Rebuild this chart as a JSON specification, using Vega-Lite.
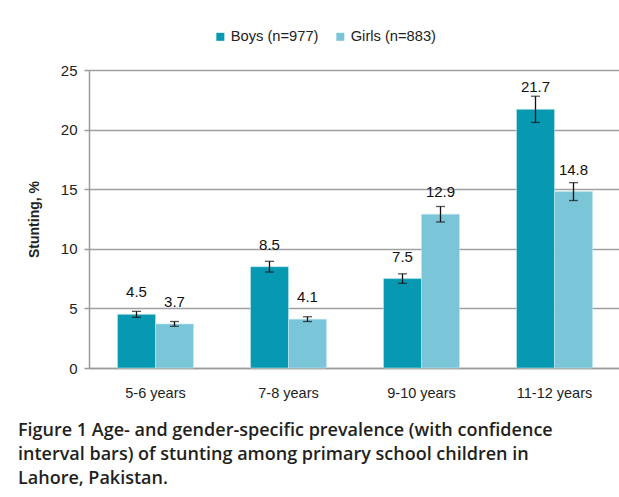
{
  "$schema": "https://vega.github.io/schema/vega-lite/v6.json",
  "autosize": "none",
  "padding": {"left": 89, "top": 70, "right": 0, "bottom": 129},
  "width": 532,
  "height": 298,
  "background": "white",
  "config": {
    "font": "Liberation Sans",
    "view": {"stroke": null},
    "axis": {"labelColor": "#222", "titleColor": "#222"}
  },
  "title": {
    "text": ["Figure 1 Age- and gender-specific prevalence (with confidence", "interval bars) of stunting among primary school children in", "Lahore, Pakistan."],
    "orient": "bottom",
    "anchor": "start",
    "frame": "group",
    "dx": -71,
    "offset": 22,
    "font": "Open Sans",
    "fontSize": 18,
    "fontWeight": 600,
    "lineHeight": 24,
    "color": "#231f20"
  },
  "data": {
    "values": [
      {"age": "5-6 years", "sex": "Boys (n=977)", "value": 4.5, "lo": 4.25, "hi": 4.75},
      {"age": "5-6 years", "sex": "Girls (n=883)", "value": 3.7, "lo": 3.5, "hi": 3.9},
      {"age": "7-8 years", "sex": "Boys (n=977)", "value": 8.5, "lo": 8.05, "hi": 8.95},
      {"age": "7-8 years", "sex": "Girls (n=883)", "value": 4.1, "lo": 3.9, "hi": 4.3},
      {"age": "9-10 years", "sex": "Boys (n=977)", "value": 7.5, "lo": 7.1, "hi": 7.9},
      {"age": "9-10 years", "sex": "Girls (n=883)", "value": 12.9, "lo": 12.25, "hi": 13.55},
      {"age": "11-12 years", "sex": "Boys (n=977)", "value": 21.7, "lo": 20.6, "hi": 22.8},
      {"age": "11-12 years", "sex": "Girls (n=883)", "value": 14.8, "lo": 14.05, "hi": 15.55}
    ]
  },
  "encoding": {
    "x": {
      "field": "age", "type": "nominal", "sort": null,
      "scale": {"paddingInner": 0.4286, "paddingOuter": 0.2143},
      "axis": {"title": null, "labelAngle": 0, "ticks": false, "labelPadding": 18, "labelFontSize": 14.5, "domainColor": "#9a9a9a", "domainWidth": 1.5}
    },
    "xOffset": {"field": "sex", "type": "nominal", "sort": null, "scale": {"paddingInner": 0, "paddingOuter": 0}}
  },
  "layer": [
    {
      "mark": {"type": "bar", "stroke": "#bfe6ee", "strokeWidth": 0.6},
      "encoding": {
        "y": {
          "field": "value", "type": "quantitative",
          "scale": {"domain": [0, 25], "nice": false},
          "axis": {
            "title": "Stunting, %", "titleFontSize": 14, "titleFontWeight": "bold", "titlePadding": 19,
            "values": [0, 5, 10, 15, 20, 25], "labelFontSize": 15, "labelPadding": 7,
            "tickSize": 5, "tickColor": "#9a9a9a", "tickWidth": 1.5,
            "gridColor": "#a0a0a0", "gridWidth": 1.5,
            "domainColor": "#9a9a9a", "domainWidth": 1.5
          }
        },
        "color": {
          "field": "sex", "type": "nominal", "sort": null,
          "scale": {"range": ["#0799b1", "#7ac5d8"]},
          "legend": {
            "title": null, "orient": "none", "legendX": 124, "legendY": -41, "direction": "horizontal",
            "symbolType": "square", "symbolSize": 64, "symbolStrokeWidth": 0,
            "labelFontSize": 14.7, "labelColor": "#222", "columnPadding": 14, "labelOffset": 3
          }
        }
      }
    },
    {
      "mark": {"type": "rule", "color": "#111", "strokeWidth": 1.3},
      "encoding": {
        "y": {"field": "lo", "type": "quantitative"},
        "y2": {"field": "hi"}
      }
    },
    {
      "mark": {"type": "tick", "color": "#111", "thickness": 1.3, "size": 9},
      "encoding": {"y": {"field": "lo", "type": "quantitative"}}
    },
    {
      "mark": {"type": "tick", "color": "#111", "thickness": 1.3, "size": 9},
      "encoding": {"y": {"field": "hi", "type": "quantitative"}}
    },
    {
      "mark": {"type": "text", "baseline": "bottom", "dy": -14, "fontSize": 15, "color": "#111"},
      "encoding": {
        "y": {"field": "value", "type": "quantitative"},
        "text": {"field": "value", "type": "quantitative", "format": ".1f"}
      }
    }
  ]
}
